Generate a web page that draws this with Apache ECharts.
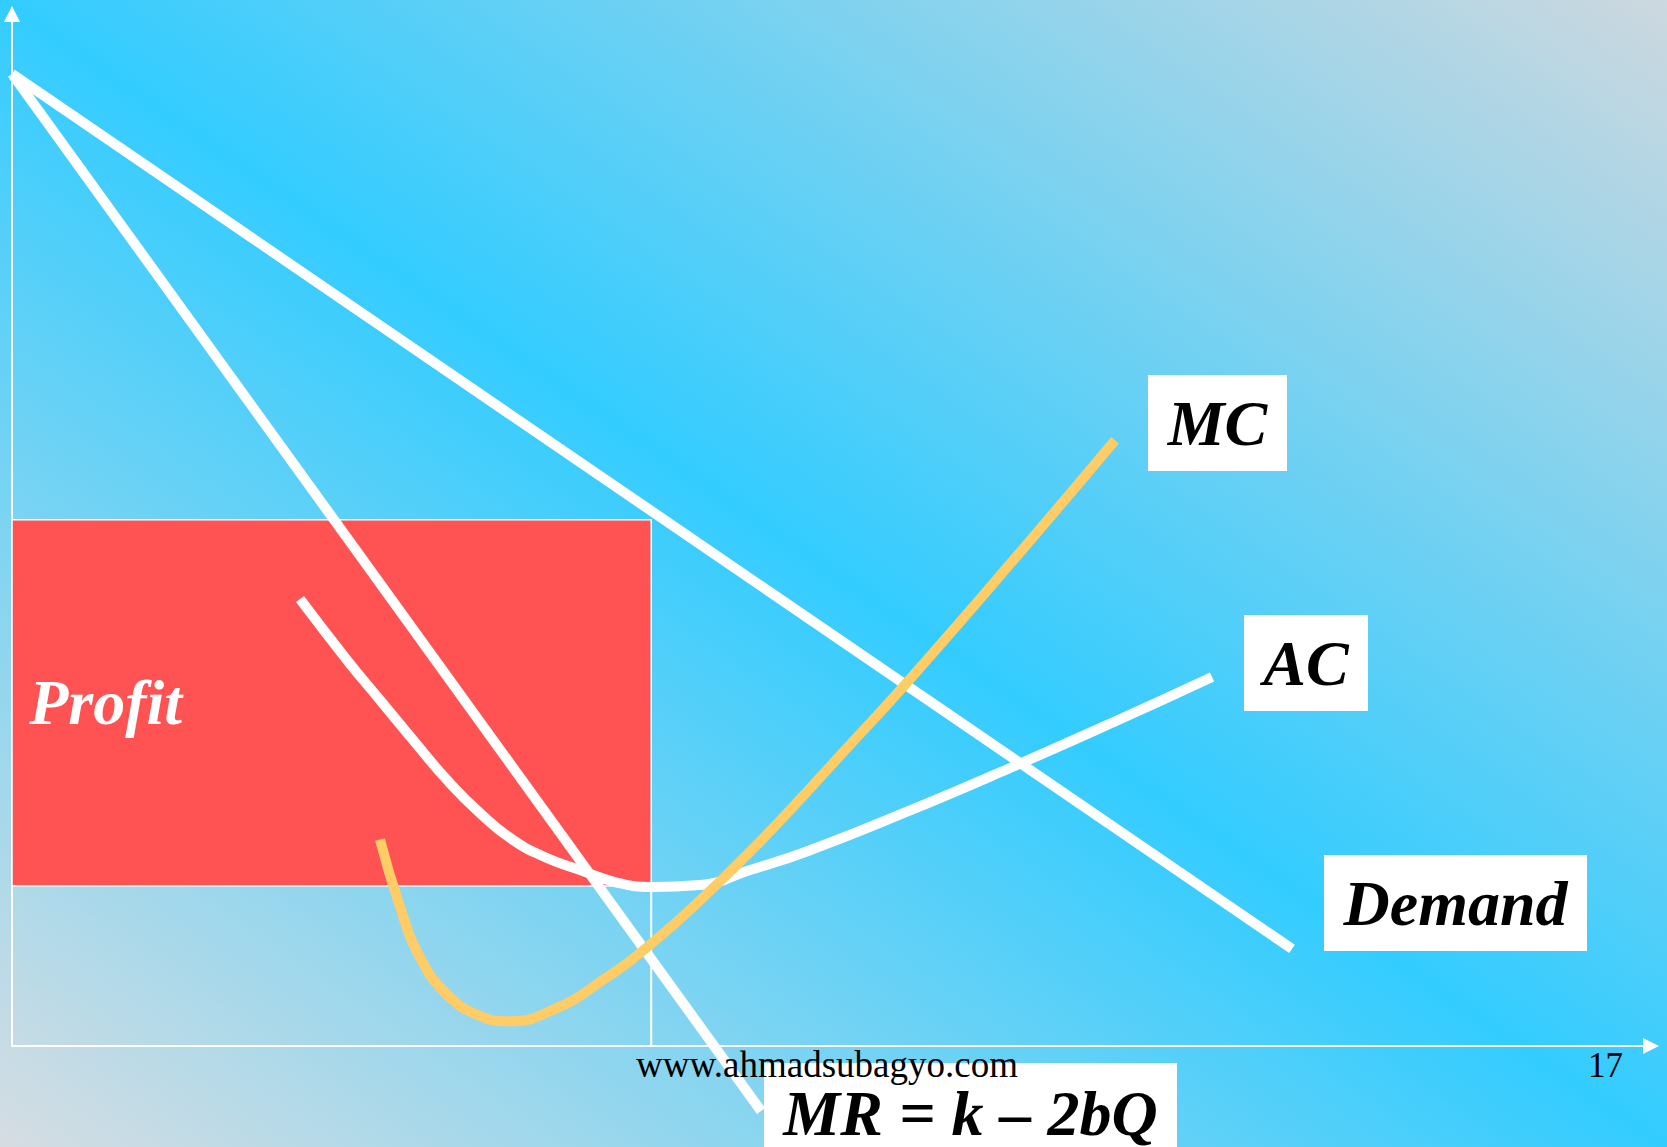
<!DOCTYPE html>
<html>
<head>
<meta charset="utf-8">
<title>Profit maximisation - MR = k - 2bQ</title>
<script src="https://cdn.jsdelivr.net/npm/echarts@6/dist/echarts.min.js"></script>
<style>
  html, body { margin: 0; padding: 0; }
  /* slide background: grey corners, cyan band along the diagonal */
  #chart {
    width: 1667px;
    height: 1147px;
    background: linear-gradient(to top right, #d6dde2 0%, #33ccff 50%, #cdd8df 100%);
  }
</style>
</head>
<body>
<div id="chart"></div>
<script>
// quantity on x, price on y (0..100 each way)
const demand = [[0, 94.2], [78.1, 9.4]];
const marginalRevenue = [[0, 94.2], [45.7, -6.3]];
const averageCost = [
  [17.57, 43.31], [20.44, 37.4], [22.45, 33.53], [24.47, 29.65], [26.54, 25.78],
  [28.55, 22.58], [30.57, 19.96], [32.64, 18.22], [34.66, 17.05], [36.79, 15.89],
  [38.99, 15.41], [41.98, 15.6], [45.03, 17.05], [48.57, 18.9], [54.42, 22.58],
  [60.89, 26.94], [67.36, 31.49], [73.22, 35.76]
];
const marginalCost = [
  [22.45, 20.0], [23.61, 13.8], [24.89, 8.6], [26.54, 5.0], [28.43, 3.0],
  [30.26, 2.4], [33.0, 3.5], [36.24, 6.6], [38.99, 9.9], [42.1, 14.3],
  [46.0, 20.4], [51.19, 29.3], [54.42, 34.9], [60.89, 46.7], [67.3, 58.7]
];
const profitQ = 39;      // chosen quantity
const profitPrice = 51;  // top of the profit box
const profitCost = 15.5; // AC at that quantity
const quantityDrop = [[profitQ, profitCost], [profitQ, 0]];

const serif = "'Liberation Serif', 'Times New Roman', serif";

const chart = echarts.init(document.getElementById("chart"), null, { renderer: "svg" });

function labelBox(x, y, w, h, text, size) {
  return {
    type: "group",
    z: 100,
    children: [
      { type: "rect", shape: { x: x, y: y, width: w, height: h }, style: { fill: "#ffffff" } },
      {
        type: "text",
        x: x + w / 2,
        y: y + h / 2,
        style: {
          text: text,
          fill: "#000000",
          font: "italic bold " + size + "px " + serif,
          textAlign: "center",
          textVerticalAlign: "middle"
        }
      }
    ]
  };
}

const axisLine = {
  show: true,
  lineStyle: { color: "#ffffff", width: 2 },
  symbol: ["none", "triangle"],
  symbolSize: [16, 16]
};

chart.setOption({
  animation: false,
  backgroundColor: "transparent",
  grid: { left: 12, right: 16, top: 14, bottom: 101 },
  xAxis: {
    type: "value",
    min: 0,
    max: 100,
    axisLine: axisLine,
    axisTick: { show: false },
    axisLabel: { show: false },
    splitLine: { show: false }
  },
  yAxis: {
    type: "value",
    min: 0,
    max: 100,
    axisLine: axisLine,
    axisTick: { show: false },
    axisLabel: { show: false },
    splitLine: { show: false }
  },
  series: [
    {
      name: "Profit",
      type: "line",
      data: quantityDrop,
      symbol: "none",
      lineStyle: { color: "#ffffff", width: 2 },
      markArea: {
        silent: true,
        itemStyle: { color: "#ff5252", borderColor: "#ffffff", borderWidth: 1.5 },
        label: {
          show: true,
          position: "insideLeft",
          distance: 18,
          color: "#ffffff",
          fontFamily: serif,
          fontStyle: "italic",
          fontWeight: "bold",
          fontSize: 64
        },
        data: [[
          { name: "Profit", coord: [0, profitPrice] },
          { coord: [profitQ, profitCost] }
        ]]
      }
    },
    {
      name: "MR",
      type: "line",
      data: marginalRevenue,
      symbol: "none",
      clip: false,
      lineStyle: { color: "#ffffff", width: 10 }
    },
    {
      name: "Demand",
      type: "line",
      data: demand,
      symbol: "none",
      lineStyle: { color: "#ffffff", width: 10 }
    },
    {
      name: "AC",
      type: "line",
      data: averageCost,
      symbol: "none",
      smooth: 0.5,
      lineStyle: { color: "#ffffff", width: 10 }
    },
    {
      name: "MC",
      type: "line",
      data: marginalCost,
      symbol: "none",
      smooth: 0.5,
      lineStyle: { color: "#ffcc66", width: 10 }
    }
  ],
  graphic: [
    labelBox(1148, 375, 139, 96, "MC", 64),
    labelBox(1244, 615, 124, 96, "AC", 64),
    labelBox(1324, 855, 263, 96, "Demand", 64),
    labelBox(764, 1063, 413, 100, "MR = k \u2013 2bQ", 64),
    {
      type: "text",
      z: 110,
      x: 636,
      y: 1064,
      style: {
        text: "www.ahmadsubagyo.com",
        fill: "#000000",
        font: "37px " + serif,
        textVerticalAlign: "middle"
      }
    },
    {
      type: "text",
      z: 110,
      x: 1623,
      y: 1065,
      style: {
        text: "17",
        fill: "#000000",
        font: "35px " + serif,
        textAlign: "right",
        textVerticalAlign: "middle"
      }
    }
  ]
});
</script>
</body>
</html>
